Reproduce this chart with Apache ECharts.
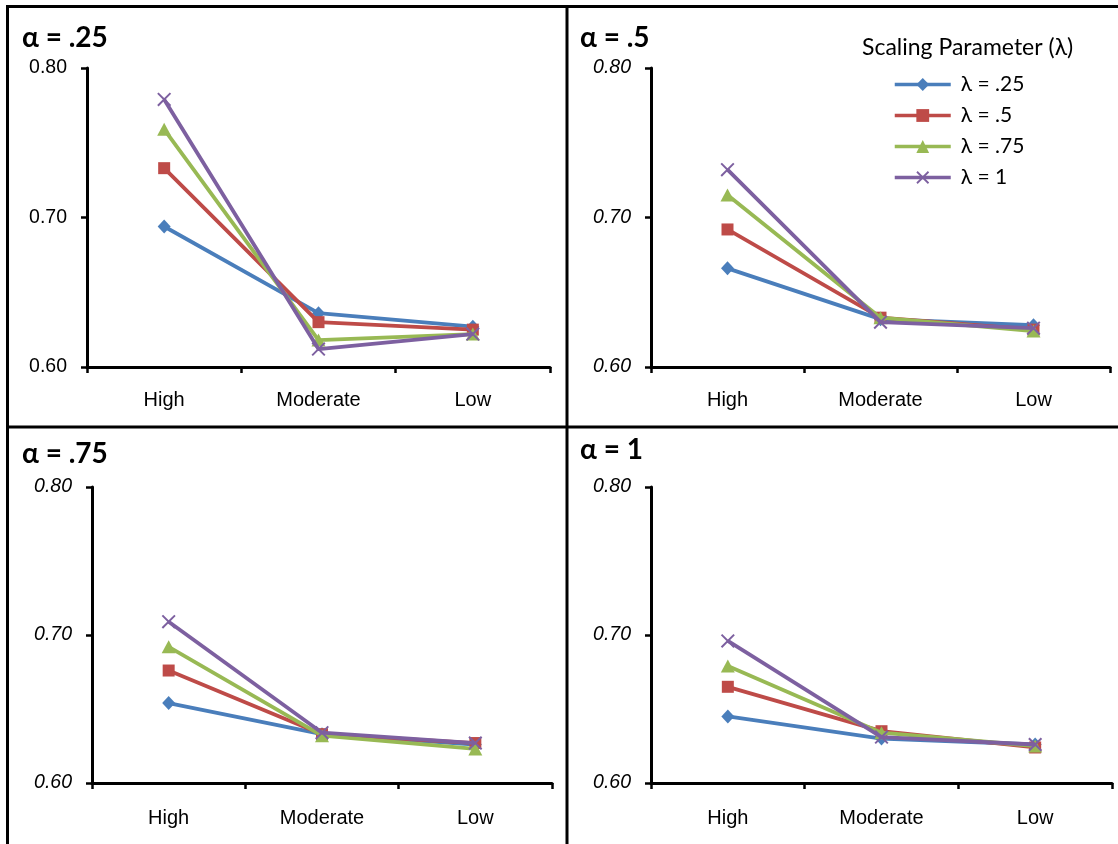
<!DOCTYPE html>
<html>
<head>
<meta charset="utf-8">
<script src="https://cdn.jsdelivr.net/npm/echarts@6/dist/echarts.min.js"></script>
<style>
html,body{margin:0;padding:0;background:#fff;}
#chart{width:1118px;height:844px;}
</style>
</head>
<body>
<div id="chart"></div>
<script>
// ---- data ----
const categories = ['High', 'Moderate', 'Low'];
const yTicks = [0.60, 0.70, 0.80];
const panelTitles = ['α = .25', 'α = .5', 'α = .75', 'α = 1'];
const seriesNames = ['λ = .25', 'λ = .5', 'λ = .75', 'λ = 1'];
const legendTitle = 'Scaling Parameter (λ)';

// one array per panel (alpha), rows = lambda series, columns = categories
const alpha25 = [
  [0.694, 0.636, 0.627],
  [0.733, 0.630, 0.625],
  [0.759, 0.618, 0.622],
  [0.779, 0.612, 0.622]
];
const alpha5 = [
  [0.666, 0.632, 0.628],
  [0.692, 0.633, 0.625],
  [0.715, 0.633, 0.624],
  [0.732, 0.630, 0.626]
];
const alpha75 = [
  [0.654, 0.633, 0.626],
  [0.676, 0.633, 0.627],
  [0.692, 0.632, 0.623],
  [0.709, 0.634, 0.627]
];
const alpha1 = [
  [0.645, 0.630, 0.626],
  [0.665, 0.635, 0.624],
  [0.679, 0.634, 0.625],
  [0.696, 0.631, 0.626]
];
const panels = [alpha25, alpha5, alpha75, alpha1];

// ---- styling ----
const colors = ['#4A7EBB', '#BE4B48', '#98B954', '#7D60A0'];
const xPath = 'path://M0,1 L1,0 L10,9 L9,10 Z M9,0 L10,1 L1,10 L0,9 Z';
const symbols = ['diamond', 'rect', 'triangle', xPath];
const symbolSizes = [[13, 14], 12, [14, 13], 14];

const grids = [
  {left: 87, top: 68, width: 463, height: 299},
  {left: 651, top: 68, width: 459, height: 299},
  {left: 92, top: 487, width: 460, height: 296},
  {left: 651, top: 487, width: 461, height: 296}
];
const titlePos = [
  {left: 22, top: 24}, {left: 580, top: 24},
  {left: 22, top: 440}, {left: 580, top: 436}
];

const chart = echarts.init(document.getElementById('chart'), null, {renderer: 'canvas'});

const xAxes = grids.map((g, i) => ({
  type: 'category', gridIndex: i, data: categories, boundaryGap: true,
  axisLine: {lineStyle: {color: '#000', width: 3}},
  axisTick: {show: true, length: 6, inside: false, lineStyle: {color: '#000', width: 2.5}},
  axisLabel: {color: '#000', fontFamily: 'Liberation Sans, Arial, sans-serif', fontSize: 20, margin: i < 2 ? 23 : 25},
  splitLine: {show: false}
}));
const yAxes = grids.map((g, i) => ({
  type: 'value', gridIndex: i, min: yTicks[0], max: yTicks[yTicks.length - 1], interval: 0.1,
  axisLine: {show: true, lineStyle: {color: '#000', width: 3}},
  axisTick: {show: true, length: 6, inside: false, lineStyle: {color: '#000', width: 2.5}},
  axisLabel: {
    color: '#000', fontFamily: 'Liberation Sans, Arial, sans-serif', fontSize: 19.5, margin: 20,
    fontStyle: i === 0 ? 'normal' : 'italic',
    formatter: v => v.toFixed(2)
  },
  splitLine: {show: false}
}));

const series = [];
panels.forEach((panel, p) => {
  panel.forEach((vals, s) => {
    series.push({
      type: 'line', name: seriesNames[s], xAxisIndex: p, yAxisIndex: p,
      data: vals, symbol: symbols[s], symbolSize: symbolSizes[s],
      showAllSymbol: true,
      lineStyle: {color: colors[s], width: 3.8},
      itemStyle: {color: colors[s]},
      z: 2 + s, animation: false
    });
  });
});

const titles = panelTitles.map((t, i) => ({
  text: t, left: titlePos[i].left, top: titlePos[i].top, padding: 0,
  textStyle: {fontFamily: 'Lato, sans-serif', fontWeight: 'bold', fontSize: 28, color: '#000'}
}));
titles.push({
  text: legendTitle, left: 862, top: 36, padding: 0,
  textStyle: {fontFamily: 'Lato, sans-serif', fontWeight: 'normal', fontSize: 23, color: '#000'}
});

const L = 3;
const option = {
  animation: false,
  backgroundColor: '#fff',
  title: titles,
  grid: grids,
  xAxis: xAxes,
  yAxis: yAxes,
  legend: {
    orient: 'vertical', left: 893, top: 74, padding: 0,
    data: seriesNames,
    itemWidth: 56, itemHeight: 16, itemGap: 10,
    lineStyle: {width: 3.5},
    textStyle: {fontFamily: 'Lato, sans-serif', fontSize: 21, color: '#000', padding: [0, 0, 0, 5]},
    selectedMode: false
  },
  graphic: [
    {type: 'line', shape: {x1: 6, y1: 6.5, x2: 1118, y2: 6.5}, style: {stroke: '#000', lineWidth: L}},
    {type: 'line', shape: {x1: 7.5, y1: 5, x2: 7.5, y2: 844}, style: {stroke: '#000', lineWidth: L}},
    {type: 'line', shape: {x1: 567, y1: 5, x2: 567, y2: 844}, style: {stroke: '#000', lineWidth: L}},
    {type: 'line', shape: {x1: 6, y1: 427, x2: 1118, y2: 427}, style: {stroke: '#000', lineWidth: L}}
  ],
  series: series
};
chart.setOption(option);
</script>
</body>
</html>
